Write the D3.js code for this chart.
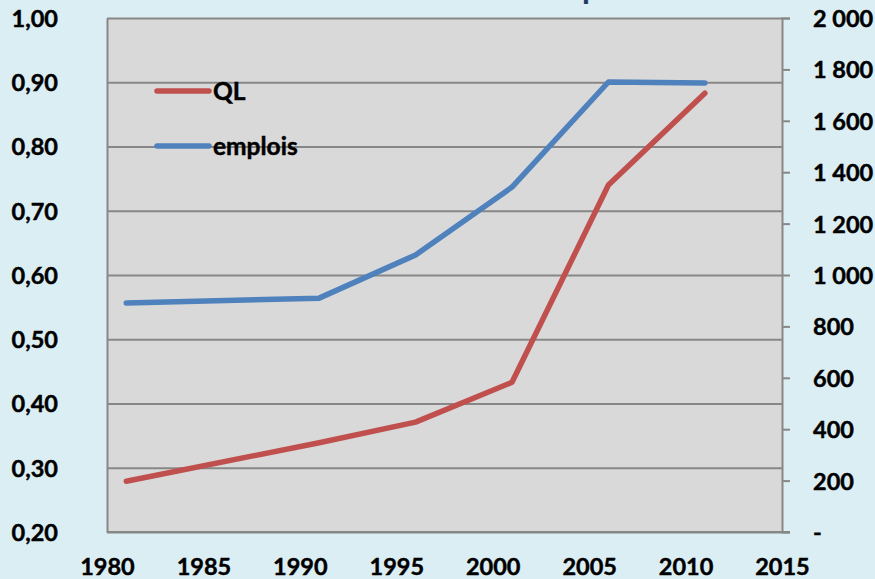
<!DOCTYPE html>
<html>
<head>
<meta charset="utf-8">
<script src="https://cdn.jsdelivr.net/npm/d3@7"></script>
<style>
  html, body { margin: 0; padding: 0; background: #dbeef4; }
  svg { display: block; }
  text { font-family: Lato, "Open Sans", sans-serif; font-weight: 700; fill: #000; }
  .lbl { stroke: #000; stroke-width: 0.45px; }
</style>
</head>
<body>
<svg id="chart" width="875" height="579"></svg>
<script>
// ---- data ----
const years = [1981, 1991, 1996, 2001, 2006, 2011];
const qlValues = [0.279, 0.339, 0.371, 0.433, 0.740, 0.883];
const emploisValues = [891, 910, 1078, 1342, 1751, 1747];
const xTicks = [1980, 1985, 1990, 1995, 2000, 2005, 2010, 2015];
const leftTicks = [0.2, 0.3, 0.4, 0.5, 0.6, 0.7, 0.8, 0.9, 1.0];
const rightTicks = [0, 200, 400, 600, 800, 1000, 1200, 1400, 1600, 1800, 2000];
const seriesNames = ["QL", "emplois"];
const seriesColors = ["#c0504d", "#4f81bd"];

(function () {
const svg = d3.select("#chart");
const W = 875, H = 579;
svg.append("rect").attr("width", W).attr("height", H).attr("fill", "#dbeef4");

const pL = 107, pR = 782, pT = 18, pB = 532;
const x = d3.scaleLinear().domain([1980, 2015]).range([pL, pR]);
const yL = d3.scaleLinear().domain([0.2, 1.0]).range([pB, pT]);
const yR = d3.scaleLinear().domain([0, 2000]).range([pB, pT]);

const loc = d3.formatLocale({decimal: ",", thousands: "\u00a0", grouping: [3], currency: ["", ""]});
const fL = loc.format(".2f");
const fR = v => v === 0 ? "-" : loc.format(",d")(v).replace(/\u00a0/g, " ");

// title fragment (cut off at top, as in the reference)
svg.append("text").attr("x", 582).attr("y", -1)
  .style("font-size", "32px").style("fill", "#1f3864").text("p");

// plot area
svg.append("rect").attr("x", pL).attr("y", pT)
  .attr("width", pR - pL).attr("height", pB - pT).attr("fill", "#d9d9d9");

const gridColor = "#878787";

// gridlines (left scale)
const grid = svg.append("g").attr("transform", `translate(${pL},0)`)
  .call(d3.axisLeft(yL).tickValues(leftTicks).tickSize(-(pR - pL)).tickFormat(""));
grid.select(".domain").remove();
grid.selectAll("line").attr("stroke", gridColor).attr("stroke-width", 2);

const FS = "23.5px";

// left axis
const gL = svg.append("g").attr("transform", `translate(${pL},0)`)
  .call(d3.axisLeft(yL).tickValues(leftTicks).tickSize(0).tickPadding(49).tickFormat(fL));
gL.select(".domain").attr("stroke", gridColor).attr("stroke-width", 2);
gL.selectAll("text").attr("class", "lbl").style("font-size", FS).style("font-family", "Lato").attr("dy", "0.36em");

// right axis
const gR = svg.append("g").attr("transform", `translate(${pR},0)`)
  .call(d3.axisRight(yR).tickValues(rightTicks).tickSize(8).tickPadding(23).tickFormat(fR));
gR.select(".domain").attr("stroke", gridColor).attr("stroke-width", 2);
gR.selectAll("line").attr("stroke", gridColor).attr("stroke-width", 2);
gR.selectAll("text").attr("class", "lbl").style("font-size", FS).style("font-family", "Lato").attr("dy", "0.36em");

// bottom axis
const gB = svg.append("g").attr("transform", `translate(0,${pB})`)
  .call(d3.axisBottom(x).tickValues(xTicks).tickSize(0).tickPadding(26).tickFormat(d3.format("d")));
gB.select(".domain").attr("stroke", gridColor).attr("stroke-width", 2)
  .attr("d", `M${pL},0H${pR + 8}`);
gB.selectAll("text").attr("class", "lbl").style("font-size", FS).style("font-family", "Lato");

// lines
const lineQL = d3.line().x((d, i) => x(years[i])).y(d => yL(d));
const lineEm = d3.line().x((d, i) => x(years[i])).y(d => yR(d));

svg.append("path").datum(emploisValues).attr("d", lineEm)
  .attr("fill", "none").attr("stroke", seriesColors[1]).attr("stroke-width", 5.5)
  .attr("stroke-linecap", "round").attr("stroke-linejoin", "round");
svg.append("path").datum(qlValues).attr("d", lineQL)
  .attr("fill", "none").attr("stroke", seriesColors[0]).attr("stroke-width", 5.5)
  .attr("stroke-linecap", "round").attr("stroke-linejoin", "round");

// legend
const legend = svg.append("g");
const legY = [91, 146];
seriesNames.forEach((name, i) => {
  legend.append("line").attr("x1", 157).attr("x2", 209).attr("y1", legY[i]).attr("y2", legY[i])
    .attr("stroke", seriesColors[i]).attr("stroke-width", 5.5).attr("stroke-linecap", "round");
  legend.append("text").attr("class", "lbl").attr("x", 213).attr("y", legY[i]).attr("dy", "0.35em")
    .style("font-size", "24.5px").text(name);
});
})();
</script>
</body>
</html>
